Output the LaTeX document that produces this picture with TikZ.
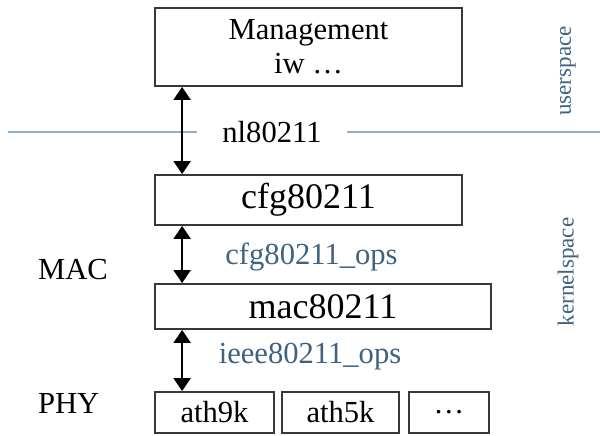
\documentclass[tikz,border=0pt]{standalone}
\usepackage{fontspec}
\setmainfont{Liberation Serif}
\usetikzlibrary{arrows.meta}

\definecolor{opsblue}{RGB}{62,98,128}
\definecolor{splitline}{RGB}{145,175,200}

\begin{document}
\begin{tikzpicture}[x=0.5pt,y=-0.5pt,
	layer/.style={draw=black!78,line width=0.9pt,inner sep=0pt},
	big/.style={font=\fontsize{18}{20}\selectfont},
	normal/.style={font=\fontsize{15.3}{17}\selectfont},
	ops/.style={normal,text=opsblue},
	space/.style={font=\fontsize{11.5}{13}\selectfont,text=opsblue,rotate=90},
	link/.style={{Triangle[width=8.5pt,length=6.5pt]}-{Triangle[width=8.5pt,length=6.5pt]},line width=1pt}]
	\useasboundingbox (0,0) rectangle (600,435);
	% user / kernel border
	\node[normal,minimum width=75pt,inner sep=0pt] (nl) at (272,132) {nl80211};
	\coordinate (lineL) at (8,132);
	\coordinate (lineR) at (600,132);
	\draw[splitline,line width=1pt] (lineL) -- (nl.west);
	\draw[splitline,line width=1pt] (nl.east) -- (lineR);
	% boxes
	\node[layer,normal,align=center,minimum width=153.5pt,minimum height=39pt] (mgmt) at (308.5,47) {Management\\iw \ldots};
	\node[layer,big,minimum width=153.5pt,minimum height=25pt] (cfg) at (308.5,200) {cfg80211};
	\node[layer,big,minimum width=168pt,minimum height=22.5pt] (mac) at (323,306.5) {mac80211};
	\node[layer,normal,minimum width=59.5pt,minimum height=20.5pt] (ath9k) at (214.5,412.5) {ath9k};
	\node[layer,normal,minimum width=58.5pt,minimum height=20.5pt] (ath5k) at (340.5,412.5) {ath5k};
	\node[layer,normal,minimum width=40pt,minimum height=20.5pt] (more) at (449,412.5) {\ldots};
	% interfaces
	\draw[link] ([xshift=14pt]mgmt.south west) -- ([xshift=14pt]cfg.north west);
	\draw[link] ([xshift=14pt]cfg.south west) -- ([xshift=14pt]mac.north west);
	\draw[link] ([xshift=14pt]mac.south west) -- ([xshift=14pt]ath9k.north west);
	\node[ops] (cfgops) at (311.5,257) {cfg80211\_ops};
	\node[ops] (ieeeops) at (310,357) {ieee80211\_ops};
	\node[normal,anchor=west] (maclbl) at (31,270) {MAC};
	\node[normal,anchor=west] (phylbl) at (31,403) {PHY};
	\node[space] (user) at (568,71) {userspace};
	\node[space] (kernel) at (568,272) {kernelspace};
\end{tikzpicture}
\end{document}
